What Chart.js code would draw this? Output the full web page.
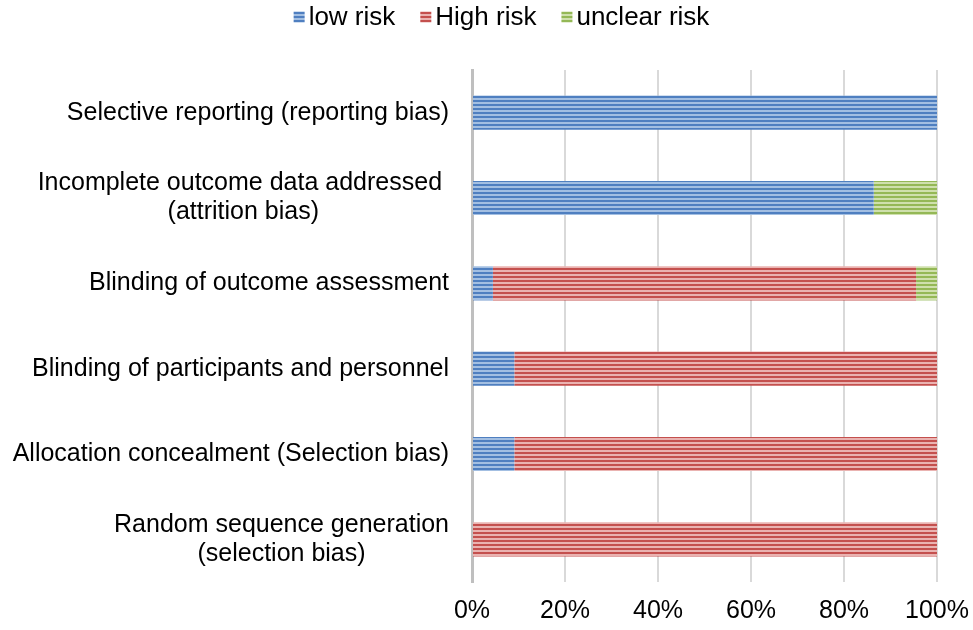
<!DOCTYPE html>
<html>
<head>
<meta charset="utf-8">
<script src="https://cdn.jsdelivr.net/npm/chart.js@4/dist/chart.umd.min.js"></script>
<style>
  html, body { margin: 0; padding: 0; background: #fff; }
  #wrap { width: 973px; height: 630px; }
</style>
</head>
<body>
<div id="wrap"><canvas id="riskChart" width="973" height="630"></canvas></div>
<script>
const categories = [
  ["Selective reporting (reporting bias)"],
  ["Incomplete outcome data addressed ", "(attrition bias)"],
  ["Blinding of outcome assessment"],
  ["Blinding of participants and personnel"],
  ["Allocation concealment (Selection bias)"],
  ["Random sequence generation", "(selection bias)"],
];
const lowRisk = [100, 86.4, 4.5, 9.1, 9.1, 0];
const highRisk = [0, 0, 91, 90.9, 90.9, 100];
const unclearRisk = [0, 13.6, 4.5, 0, 0, 0];
const tickLabels = ["0%", "20%", "40%", "60%", "80%", "100%"];

const FONT = "'Liberation Sans', Arial, sans-serif";

function stripes(dark, light) {
  const c = document.createElement("canvas");
  c.width = 4;
  c.height = 4;
  const g = c.getContext("2d");
  g.fillStyle = light;
  g.fillRect(0, 0, 4, 4);
  g.fillStyle = dark;
  g.fillRect(0, 0, 4, 2);
  return g.createPattern(c, "repeat");
}

// y labels: block right-aligned, lines centred inside the block
// legend drawn by hand so it can sit where the original one sits
const extras = {
  id: "extras",
  afterDraw(chart) {
    const ctx = chart.ctx;
    const y = chart.scales.y;
    const right = 449;
    const lineH = 29;
    ctx.save();
    ctx.font = "25px " + FONT;
    ctx.fillStyle = "#000";
    ctx.textAlign = "center";
    ctx.textBaseline = "middle";
    categories.forEach((lines, i) => {
      const w = Math.max(...lines.map((l) => ctx.measureText(l).width));
      const cx = right - w / 2;
      const cy = y.getPixelForTick(i);
      const start = cy - ((lines.length - 1) * lineH) / 2;
      lines.forEach((l, j) => ctx.fillText(l, cx, start + j * lineH));
    });

    // legend
    ctx.font = "26px " + FONT;
    ctx.textAlign = "left";
    const box = 11, gap = 4, itemGap = 25, ly = 17;
    const sets = chart.data.datasets;
    let total = 0;
    sets.forEach((ds, i) => {
      total += box + gap + ctx.measureText(ds.label).width;
      if (i < sets.length - 1) total += itemGap;
    });
    let x = 501.5 - total / 2;
    sets.forEach((ds) => {
      ctx.fillStyle = ds.backgroundColor;
      ctx.fillRect(x, ly - box / 2, box, box);
      x += box + gap;
      ctx.fillStyle = "#000";
      ctx.fillText(ds.label, x, ly + 1);
      x += ctx.measureText(ds.label).width + itemGap;
    });
    ctx.restore();
  },
};

const canvas = document.getElementById("riskChart");
new Chart(canvas, {
  type: "bar",
  data: {
    labels: categories,
    datasets: [
      {
        label: "low risk",
        data: lowRisk,
        backgroundColor: stripes("#4f7fc0", "#a3bfe2"),
        borderWidth: 0,
      },
      {
        label: "High risk",
        data: highRisk,
        backgroundColor: stripes("#c4504e", "#eab3b1"),
        borderWidth: 0,
      },
      {
        label: "unclear risk",
        data: unclearRisk,
        backgroundColor: stripes("#94b856", "#cfe0ad"),
        borderWidth: 0,
      },
    ],
  },
  options: {
    indexAxis: "y",
    responsive: false,
    animation: false,
    barPercentage: 0.4,
    categoryPercentage: 1,
    layout: { padding: { left: 0, right: 36, top: 70, bottom: 0 } },
    plugins: {
      legend: { display: false },
      tooltip: { enabled: false },
    },
    scales: {
      x: {
        stacked: true,
        min: 0,
        max: 100,
        afterFit: (scale) => {
          scale.height = 48;
          scale.paddingLeft = 0;
          scale.paddingRight = 0;
        },
        ticks: {
          stepSize: 20,
          padding: 14,
          maxRotation: 0,
          color: "#000",
          font: { family: FONT, size: 25 },
          callback: (v, i) => tickLabels[i],
        },
        grid: { color: "#d9d9d9", lineWidth: 2, drawTicks: false },
        border: { display: false },
      },
      y: {
        stacked: true,
        afterFit: (scale) => { scale.width = 472; },
        ticks: { display: false },
        grid: { display: false, drawTicks: false },
        border: { display: true, color: "#bfbfbf", width: 3 },
      },
    },
  },
  plugins: [extras],
});
</script>
</body>
</html>
